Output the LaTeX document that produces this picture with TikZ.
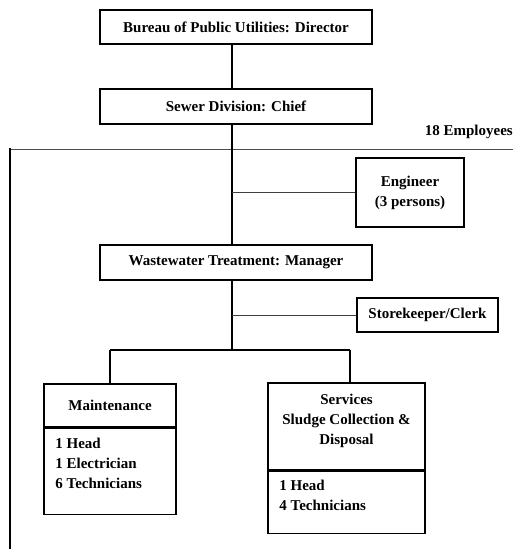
\documentclass[tikz,border=0pt]{standalone}
\usepackage{fontspec}
\setmainfont{Liberation Serif}
\begin{document}
\begin{tikzpicture}[x=1pt,y=-1pt,
  txt/.style={font=\bfseries\fontsize{15}{20}\selectfont, inner sep=0pt},
  box/.style={draw, line width=1.6pt, inner sep=0pt, align=center, txt},
  frame/.style={draw, line width=1.6pt, inner sep=0pt},
  trunk/.style={line width=2pt},
  branch/.style={line width=1pt, draw=black!75},
  bracket/.style={line width=2.4pt},
  topline/.style={line width=1pt, draw=black!70}]
\useasboundingbox (0,0) rectangle (513,549);

% main boxes
\node[box, minimum width=272pt, minimum height=34pt] (dir) at (236,27) {Bureau of Public Utilities: Director};
\node[box, minimum width=272pt, minimum height=35pt] (sew) at (236,106.5) {Sewer Division: Chief};
\node[box, minimum width=272pt, minimum height=35pt] (ww) at (236,262.5) {Wastewater Treatment: Manager};
\node[box, minimum width=108pt, minimum height=69pt] (eng) at (410,192.5) {Engineer\\(3 persons)};
\node[box, minimum width=141pt, minimum height=34pt] (sto) at (427.5,315) {Storekeeper/Clerk};

% Maintenance
\node[frame, minimum width=132pt, minimum height=43pt] (mh) at (110,405.5) {};
\node[txt] (mht) at (mh.center) {Maintenance};
\node[frame, minimum width=132pt, minimum height=86pt, anchor=north] (mb) at (mh.south) {};
\node[txt, anchor=north west, align=left] (mbt) at ([xshift=12pt,yshift=-10pt]mb.north west) {1 Head\\1 Electrician\\6 Technicians};

% Services
\node[frame, minimum width=157pt, minimum height=87pt] (sh) at (346.5,426.5) {};
\node[txt, align=center] (sht) at (346.5,421) {Services\\Sludge Collection \&\\Disposal};
\node[frame, minimum width=157pt, minimum height=62pt, anchor=north] (sb) at (sh.south) {};
\node[txt, anchor=north west, align=left] (sbt) at ([xshift=12pt,yshift=-9pt]sb.north west) {1 Head\\4 Technicians};

% employees note and bracket
\node[txt, anchor=east] (emp) at (513,132) {18 Employees};
\coordinate (tl) at (10,149);
\coordinate (tr) at (513,149);
\coordinate (bl) at (10,549);
\draw[topline] (tl) -- (tr);
\draw[bracket] ([yshift=1pt]tl) -- (bl);

% connectors
\coordinate (vx) at (232,0);
\coordinate (busl) at (110,350);
\coordinate (busr) at (350,350);
\draw[trunk] (dir.south -| vx) -- (sew.north -| vx);
\draw[trunk] (sew.south -| vx) -- (ww.north -| vx);
\draw[trunk] (ww.south -| vx) -- (vx |- busl);
\draw[branch] (vx |- eng.west) -- (eng.west);
\draw[branch] (vx |- sto.west) -- (sto.west);
\draw[line width=1.6pt] (busl) -- (busr);
\draw[line width=1.6pt] (busl) -- (mh.north -| busl);
\draw[line width=1.6pt] (busr) -- (sh.north -| busr);
\end{tikzpicture}
\end{document}
